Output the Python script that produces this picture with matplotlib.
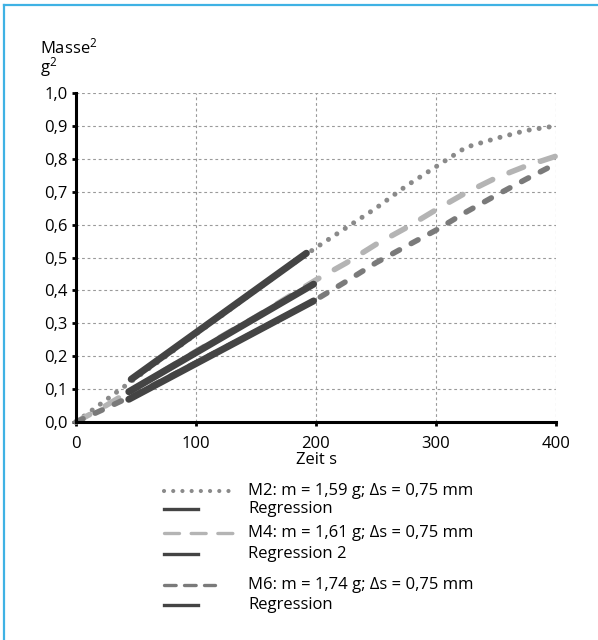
import matplotlib
matplotlib.use("Agg")
import matplotlib.pyplot as plt
from matplotlib.lines import Line2D

plt.rcParams["font.family"] = ["Open Sans", "DejaVu Sans"]
plt.rcParams["mathtext.fontset"] = "custom"
plt.rcParams["mathtext.rm"] = "Open Sans"
plt.rcParams["mathtext.default"] = "rm"

# data
zeit = [0, 25, 50, 75, 100, 125, 150, 175, 200, 225, 250, 275, 300, 325, 350, 375, 400]
m2 = [0, 0.067, 0.134, 0.2, 0.267, 0.333, 0.4, 0.466, 0.53, 0.59, 0.65, 0.717, 0.776, 0.835, 0.862, 0.886, 0.9]
m4 = [0, 0.05, 0.105, 0.16, 0.215, 0.268, 0.32, 0.376, 0.432, 0.483, 0.54, 0.59, 0.645, 0.697, 0.742, 0.778, 0.808]
m6 = [0, 0.042, 0.085, 0.132, 0.18, 0.228, 0.275, 0.323, 0.372, 0.427, 0.484, 0.534, 0.583, 0.638, 0.689, 0.738, 0.785]

reg1_x = [46, 192]
reg1_y = [0.13, 0.513]
reg2_x = [44, 198]
reg2_y = [0.092, 0.419]
reg3_x = [44, 198]
reg3_y = [0.069, 0.368]

xticks = [0, 100, 200, 300, 400]
yticks = [0.0, 0.1, 0.2, 0.3, 0.4, 0.5, 0.6, 0.7, 0.8, 0.9, 1.0]
ytick_labels = ["0,0", "0,1", "0,2", "0,3", "0,4", "0,5", "0,6", "0,7", "0,8", "0,9", "1,0"]

legend_labels = [
    "M2: m = 1,59 g; \u0394s = 0,75 mm",
    "Regression",
    "M4: m = 1,61 g; \u0394s = 0,75 mm",
    "Regression 2",
    "M6: m = 1,74 g; \u0394s = 0,75 mm",
    "Regression",
]

c_m2 = "#8a8a8a"
c_m4 = "#b4b4b4"
c_m6 = "#7a7a7a"
c_reg = "#444444"

fs = 12

fig = plt.figure(figsize=(5.98, 6.40), dpi=100)
ax = fig.add_axes([76 / 598, 1 - 422 / 640, 480 / 598, 329 / 640])

ax.plot(zeit, m2, color=c_m2, lw=3.6, ls=(0, (0.01, 2.0)), dash_capstyle="round", clip_on=False)
ax.plot(zeit, m4, color=c_m4, lw=4.0, ls=(0, (2.8, 3.2)), dash_capstyle="round", clip_on=False)
ax.plot(zeit, m6, color=c_m6, lw=4.0, ls=(0, (1.4, 2.4)), dash_capstyle="round", clip_on=False)
for rx, ry in [(reg1_x, reg1_y), (reg2_x, reg2_y), (reg3_x, reg3_y)]:
    ax.plot(rx, ry, color=c_reg, lw=5.0, solid_capstyle="round")

ax.set_xlim(0, 400)
ax.set_ylim(0, 1.0)
ax.set_xticks(xticks)
ax.set_yticks(yticks)
ax.set_yticklabels(ytick_labels)
ax.tick_params(labelsize=fs, length=3, width=2, pad=3, direction="out")
ax.tick_params(axis="x", pad=7)
ax.grid(True, color="#9a9a9a", lw=0.8, ls=(0, (2.5, 2.5)))
ax.set_axisbelow(True)
for s in ["top", "right"]:
    ax.spines[s].set_visible(False)
for s in ["left", "bottom"]:
    ax.spines[s].set_linewidth(2.2)
ax.set_xlabel("Zeit s", fontsize=fs, labelpad=0)

fig.text(40 / 598, 1 - 53 / 640, "Masse$^2$", fontsize=fs, va="baseline", ha="left")
fig.text(40 / 598, 1 - 72 / 640, "g$^2$", fontsize=fs, va="baseline", ha="left")

# manual legend
rows_y = [491, 509, 533, 554, 585, 605]
handles = [
    (c_m2, 3.0, (0, (0.01, 2.2)), 233),
    (c_reg, 2.4, "-", 198),
    (c_m4, 2.4, (0, (4.5, 3.5)), 233),
    (c_reg, 2.4, "-", 198),
    (c_m6, 2.4, (0, (3.5, 2.5)), 215),
    (c_reg, 2.4, "-", 198),
]
for y, (c, lw, ls, x2), lab in zip(rows_y, handles, legend_labels):
    fy = 1 - y / 640
    ln = Line2D([164 / 598, x2 / 598], [fy, fy], transform=fig.transFigure,
                color=c, lw=lw, ls=ls, dash_capstyle="round")
    fig.add_artist(ln)
    fig.text(248 / 598, fy, lab, fontsize=fs, va="center", ha="left")

# blue frame (top and left edges)
fig.add_artist(Line2D([4 / 598, 1], [1 - 5 / 640, 1 - 5 / 640], transform=fig.transFigure,
                      color="#3fb2e4", lw=1.6))
fig.add_artist(Line2D([4 / 598, 4 / 598], [0, 1 - 5 / 640], transform=fig.transFigure,
                      color="#3fb2e4", lw=1.6))

fig.savefig("out.png", dpi=100)
